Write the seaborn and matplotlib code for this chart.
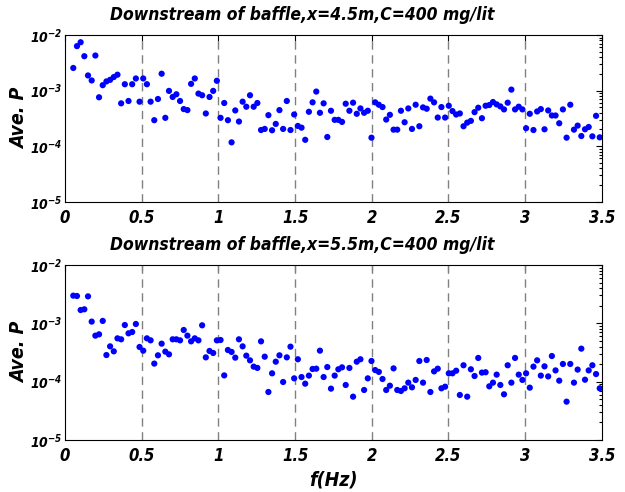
import numpy as np
import pandas as pd
import matplotlib
matplotlib.use("Agg")
import matplotlib.pyplot as plt
import seaborn as sns
from matplotlib.ticker import FixedLocator, LogLocator, NullFormatter

freq = [0.054, 0.078, 0.102, 0.126, 0.150, 0.174, 0.198, 0.222, 0.246, 0.270,
        0.294, 0.318, 0.342, 0.366, 0.390, 0.414, 0.438, 0.462, 0.486, 0.510,
        0.534, 0.558, 0.582, 0.606, 0.630, 0.654, 0.678, 0.702, 0.726, 0.750,
        0.774, 0.798, 0.822, 0.846, 0.870, 0.894, 0.918, 0.942, 0.966, 0.990,
        1.014, 1.038, 1.062, 1.086, 1.110, 1.134, 1.158, 1.182, 1.206, 1.230,
        1.254, 1.278, 1.302, 1.326, 1.350, 1.374, 1.398, 1.422, 1.446, 1.470,
        1.494, 1.518, 1.542, 1.566, 1.590, 1.614, 1.638, 1.662, 1.686, 1.710,
        1.734, 1.758, 1.782, 1.806, 1.830, 1.854, 1.878, 1.902, 1.926, 1.950,
        1.974, 1.998, 2.022, 2.046, 2.070, 2.094, 2.118, 2.142, 2.166, 2.190,
        2.214, 2.238, 2.262, 2.286, 2.310, 2.334, 2.358, 2.382, 2.406, 2.430,
        2.454, 2.478, 2.502, 2.526, 2.550, 2.574, 2.598, 2.622, 2.646, 2.670,
        2.694, 2.718, 2.742, 2.766, 2.790, 2.814, 2.838, 2.862, 2.886, 2.910,
        2.934, 2.958, 2.982, 3.006, 3.030, 3.054, 3.078, 3.102, 3.126, 3.150,
        3.174, 3.198, 3.222, 3.246, 3.270, 3.294, 3.318, 3.342, 3.366, 3.390,
        3.414, 3.438, 3.462, 3.486]

p_x45 = [2.55e-3, 6.3e-3, 7.4e-3, 4.15e-3, 1.87e-3, 1.52e-3, 4.27e-3, 7.57e-4, 1.25e-3, 1.46e-3,
         1.56e-3, 1.75e-3, 1.93e-3, 5.89e-4, 1.30e-3, 6.49e-4, 1.30e-3, 1.65e-3, 6.31e-4, 1.65e-3,
         1.30e-3, 6.31e-4, 2.93e-4, 7.05e-4, 2.01e-3, 3.23e-4, 9.86e-4, 7.67e-4, 8.57e-4, 6.49e-4,
         4.64e-4, 4.45e-4, 1.32e-3, 1.65e-3, 8.82e-4, 8.23e-4, 3.87e-4, 7.67e-4, 9.86e-4, 1.50e-3,
         3.23e-4, 5.97e-4, 2.93e-4, 1.17e-4, 4.39e-4, 2.77e-4, 6.31e-4, 5.12e-4, 8.23e-4, 5.12e-4,
         5.97e-4, 1.95e-4, 2.04e-4, 3.61e-4, 1.93e-4, 2.51e-4, 4.45e-4, 2.04e-4, 6.49e-4, 1.95e-4,
         3.71e-4, 2.31e-4, 2.15e-4, 1.30e-4, 4.15e-4, 6.14e-4, 9.59e-4, 3.98e-4, 5.89e-4, 1.46e-4,
         4.33e-4, 2.97e-4, 2.97e-4, 2.73e-4, 5.80e-4, 4.33e-4, 6.05e-4, 3.82e-4, 4.77e-4, 3.98e-4,
         4.33e-4, 1.42e-4, 6.14e-4, 5.56e-4, 5.05e-4, 3.01e-4, 3.66e-4, 1.98e-4, 1.98e-4, 4.33e-4,
         2.69e-4, 4.77e-4, 2.04e-4, 5.56e-4, 2.28e-4, 4.98e-4, 4.71e-4, 7.16e-4, 6.14e-4, 3.27e-4,
         5.05e-4, 3.27e-4, 5.33e-4, 4.27e-4, 3.71e-4, 3.87e-4, 2.28e-4, 2.65e-4, 2.85e-4, 4.09e-4,
         4.91e-4, 3.18e-4, 5.33e-4, 5.49e-4, 6.22e-4, 5.64e-4, 5.19e-4, 4.58e-4, 6.05e-4, 1.04e-3,
         4.58e-4, 5.12e-4, 4.58e-4, 2.10e-4, 3.82e-4, 1.95e-4, 4.21e-4, 4.64e-4, 2.01e-4, 4.39e-4,
         3.56e-4, 3.56e-4, 2.58e-4, 4.58e-4, 1.42e-4, 5.56e-4, 1.98e-4, 2.34e-4, 1.52e-4, 2.01e-4,
         2.21e-4, 1.50e-4, 3.51e-4, 1.44e-4]

p_x55 = [2.98e-3, 2.94e-3, 1.69e-3, 1.74e-3, 2.90e-3, 1.07e-3, 6.15e-4, 6.48e-4, 1.10e-3, 2.86e-4,
         4.03e-4, 3.31e-4, 5.53e-4, 5.32e-4, 9.36e-4, 6.74e-4, 7.10e-4, 9.74e-4, 3.93e-4, 3.40e-4,
         5.53e-4, 5.11e-4, 2.04e-4, 2.83e-4, 4.48e-4, 3.27e-4, 2.94e-4, 5.32e-4, 5.32e-4, 5.11e-4,
         7.69e-4, 6.15e-4, 4.91e-4, 5.53e-4, 5.11e-4, 9.25e-4, 2.61e-4, 3.36e-4, 3.10e-4, 5.11e-4,
         5.18e-4, 1.28e-4, 3.49e-4, 3.23e-4, 2.58e-4, 5.32e-4, 4.03e-4, 2.79e-4, 2.32e-4, 1.81e-4,
         1.72e-4, 4.91e-4, 2.68e-4, 6.65e-5, 1.39e-4, 2.20e-4, 2.83e-4, 9.87e-5, 2.61e-4, 3.98e-4,
         1.14e-4, 2.42e-4, 1.20e-4, 9.24e-5, 1.27e-4, 1.65e-4, 1.67e-4, 3.40e-4, 1.20e-4, 1.78e-4,
         7.59e-5, 1.27e-4, 1.63e-4, 1.76e-4, 8.77e-5, 1.72e-4, 5.53e-5, 2.20e-4, 2.42e-4, 7.20e-5,
         1.14e-4, 2.26e-4, 1.58e-4, 1.47e-4, 1.11e-4, 7.20e-5, 8.53e-5, 1.69e-4, 7.20e-5, 6.92e-5,
         7.69e-5, 9.62e-5, 8.00e-5, 1.07e-4, 2.26e-4, 9.62e-5, 2.35e-4, 6.65e-5, 1.50e-4, 1.67e-4,
         7.69e-5, 8.20e-5, 1.39e-4, 1.39e-4, 1.54e-4, 5.91e-5, 1.91e-4, 5.53e-5, 1.63e-4, 1.25e-4,
         2.55e-4, 1.43e-4, 1.45e-4, 8.32e-5, 9.62e-5, 1.32e-4, 8.77e-5, 6.07e-5, 1.91e-4, 9.62e-5,
         2.55e-4, 1.32e-4, 1.07e-4, 1.39e-4, 7.89e-5, 1.81e-4, 2.32e-4, 1.27e-4, 1.83e-4, 1.23e-4,
         2.75e-4, 1.56e-4, 1.04e-4, 2.01e-4, 4.54e-5, 2.01e-4, 9.62e-5, 1.61e-4, 3.68e-4, 1.08e-4,
         1.56e-4, 1.91e-4, 1.35e-4, 7.69e-5]

titles = ["Downstream of baffle,x=4.5m,C=400 mg/lit",
          "Downstream of baffle,x=5.5m,C=400 mg/lit"]
xtick_vals = [0, 0.5, 1, 1.5, 2, 2.5, 3, 3.5]
xtick_labels = ["0", "0.5", "1", "1.5", "2", "2.5", "3", "3.5"]
ytick_vals = [1e-5, 1e-4, 1e-3, 1e-2]
ytick_labels = [r"$10^{-5}$", r"$10^{-4}$", r"$10^{-3}$", r"$10^{-2}$"]

sns.set_style("white")
plt.rcParams["font.family"] = ["DejaVu Sans"]
plt.rcParams["font.stretch"] = "condensed"
plt.rcParams["font.weight"] = "bold"
plt.rcParams["font.style"] = "italic"
plt.rcParams["axes.titleweight"] = "bold"
plt.rcParams["axes.labelweight"] = "bold"
plt.rcParams["text.color"] = "black"
plt.rcParams["axes.labelcolor"] = "black"
plt.rcParams["xtick.color"] = "black"
plt.rcParams["ytick.color"] = "black"
plt.rcParams["mathtext.fontset"] = "custom"
plt.rcParams["mathtext.rm"] = "DejaVu Sans:bold:italic"
plt.rcParams["mathtext.it"] = "DejaVu Sans:bold:italic"
plt.rcParams["mathtext.bf"] = "DejaVu Sans:bold:italic"
plt.rcParams["mathtext.sf"] = "DejaVu Sans:bold:italic"

fig = plt.figure(figsize=(6.25, 4.92), dpi=100)
ax1 = fig.add_axes([0.1040, 0.5900, 0.859, 0.3389])
ax2 = fig.add_axes([0.1040, 0.1057, 0.859, 0.3557])

for ax, vals, title in [(ax1, p_x45, titles[0]), (ax2, p_x55, titles[1])]:
    df = pd.DataFrame({"f": freq, "P": vals})
    sns.scatterplot(data=df, x="f", y="P", ax=ax, color="#0000FF", s=20,
                    edgecolor="none", linewidth=0, zorder=3)
    ax.set_yscale("log")
    ax.set_xlim(0, 3.5)
    ax.set_ylim(1e-5, 1e-2)
    ax.set_xticks(xtick_vals)
    ax.set_xticklabels(xtick_labels, fontsize=12, fontweight="bold")
    ax.yaxis.set_major_locator(FixedLocator(ytick_vals))
    ax.set_yticklabels(ytick_labels, fontsize=10)
    ax.yaxis.set_minor_locator(LogLocator(base=10, subs=np.arange(2, 10)))
    ax.yaxis.set_minor_formatter(NullFormatter())
    for gx in xtick_vals[1:-1]:
        ax.axvline(gx, color="#808080", linestyle=(0, (6, 4)), linewidth=1.0, zorder=1)
    ax.tick_params(axis="both", which="both", direction="in", top=True, right=True,
                   length=4, width=0.8, colors="black", pad=5)
    ax.tick_params(axis="y", which="both", pad=2)
    ax.tick_params(axis="y", which="minor", length=2.5)
    for sp in ax.spines.values():
        sp.set_color("black")
        sp.set_linewidth(0.8)
    ax.set_title(title, fontsize=12.5, pad=11, color="black", fontweight="bold", x=0.442)
    ax.set_ylabel("Ave. P", fontsize=14, fontweight="bold")
    ax.yaxis.set_label_coords(-0.066, 0.5)
    ax.set_xlabel("")

ax2.set_xlabel("f(Hz)", fontsize=14, labelpad=4, fontweight="bold")

fig.savefig("out.png", dpi=100)
